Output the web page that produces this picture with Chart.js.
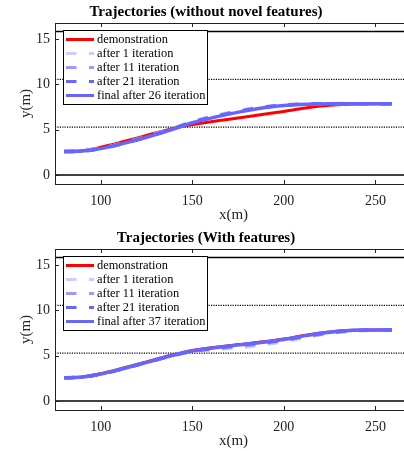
<!DOCTYPE html>
<html><head><meta charset="utf-8">
<script src="https://cdn.jsdelivr.net/npm/chart.js@4.4.0/dist/chart.umd.min.js"></script>
<style>
html,body{margin:0;padding:0;width:404px;height:451px;overflow:hidden;background:#fff;}
.wrap{position:absolute;left:0;width:420px;height:225px;}
canvas{display:block;}
</style></head><body>
<div class="wrap" style="top:0"><canvas id="c1" width="420" height="225"></canvas></div>
<div class="wrap" style="top:226px"><canvas id="c2" width="420" height="225"></canvas></div>
<script>
// ---- data ----
const titleTop = "Trajectories (without novel features)";
const titleBottom = "Trajectories (With features)";
const xLabel = "x(m)";
const yLabel = "y(m)";
const xTickValues = [100, 150, 200, 250];
const yTickValues = [0, 5, 10, 15];
const xMin = 75, xMax = 270, yMin = -1, yMax = 16.75;
const laneSolid = [0, 15.8];
const laneDotted = [5.27, 10.53];

const xs = [80, 90, 100, 112, 125, 138, 150, 163, 176, 189, 200, 212, 225, 238, 250, 259];

const seriesNamesTop = ["demonstration", "after 1 iteration", "after 11 iteration", "after 21 iteration", "final after 26 iteration"];
const seriesNamesBottom = ["demonstration", "after 1 iteration", "after 11 iteration", "after 21 iteration", "final after 37 iteration"];

// top plot (without novel features)
const demoTop   = [2.58, 2.68, 3.05, 3.65, 4.35, 5.05, 5.55, 5.95, 6.30, 6.68, 7.00, 7.38, 7.68, 7.83, 7.85, 7.85];
const iter1Top  = [2.58, 2.64, 2.93, 3.50, 4.22, 5.05, 5.88, 6.55, 7.10, 7.50, 7.72, 7.84, 7.87, 7.86, 7.85, 7.85];
const iter11Top = [2.58, 2.64, 2.92, 3.48, 4.20, 5.02, 5.84, 6.50, 7.05, 7.47, 7.70, 7.83, 7.86, 7.85, 7.85, 7.85];
const iter21Top = [2.58, 2.63, 2.91, 3.46, 4.17, 4.98, 5.79, 6.45, 7.00, 7.43, 7.67, 7.81, 7.85, 7.85, 7.85, 7.85];
const finalTop  = [2.58, 2.63, 2.90, 3.45, 4.15, 4.95, 5.75, 6.40, 6.95, 7.40, 7.65, 7.80, 7.85, 7.85, 7.85, 7.85];

// bottom plot (with features)
const demoBottom   = [2.55, 2.65, 3.00, 3.60, 4.30, 5.00, 5.55, 5.92, 6.22, 6.52, 6.82, 7.25, 7.60, 7.80, 7.82, 7.82];
const iter1Bottom  = [2.55, 2.64, 2.97, 3.56, 4.26, 4.96, 5.45, 5.70, 5.90, 6.20, 6.55, 7.00, 7.45, 7.72, 7.80, 7.82];
const iter11Bottom = [2.55, 2.63, 2.96, 3.55, 4.25, 4.95, 5.48, 5.78, 6.05, 6.35, 6.68, 7.10, 7.50, 7.75, 7.81, 7.82];
const iter21Bottom = [2.55, 2.63, 2.96, 3.55, 4.25, 4.95, 5.50, 5.85, 6.15, 6.45, 6.75, 7.18, 7.56, 7.78, 7.82, 7.82];
const finalBottom  = [2.55, 2.63, 2.96, 3.55, 4.25, 4.95, 5.50, 5.88, 6.18, 6.48, 6.78, 7.20, 7.57, 7.78, 7.82, 7.82];

// ---- styles ----
const colors = ["#ff0000", "#ccccff", "#9999ff", "#6666ff", "#6666ff"];
const dashes = [[], [10.5, 12.5], [10.5, 12.5], [10.5, 12.5], []];
const widths = [3, 3.5, 3.5, 3.5, 3.5];
const drawOrder = [4, 3, 2, 1, 0];
const serifFont = "'Liberation Serif', 'DejaVu Serif', serif";

function pts(ys) { return xs.map((x, i) => ({x: x, y: ys[i]})); }

const framePlugin = {
  id: 'frameTicks',
  afterDatasetsDraw(chart) {
    const ctx = chart.ctx, ca = chart.chartArea;
    const xs_ = chart.scales.x, ys_ = chart.scales.y;
    ctx.save();
    ctx.strokeStyle = '#222';
    ctx.lineWidth = 1;
    ctx.setLineDash([]);
    ctx.strokeRect(Math.round(ca.left) + 0.5, Math.round(ca.top) + 0.5, ca.right - ca.left, ca.bottom - ca.top);
    ctx.beginPath();
    xTickValues.forEach(v => {
      const px = Math.round(xs_.getPixelForValue(v)) + 0.5;
      ctx.moveTo(px, ca.bottom); ctx.lineTo(px, ca.bottom - 4);
      ctx.moveTo(px, ca.top); ctx.lineTo(px, ca.top + 4);
    });
    yTickValues.forEach(v => {
      const py = Math.round(ys_.getPixelForValue(v)) + 0.5;
      ctx.moveTo(ca.left, py); ctx.lineTo(ca.left + 4, py);
      ctx.moveTo(ca.right, py); ctx.lineTo(ca.right - 4, py);
    });
    ctx.stroke();

    // legend
    const ds = chart.data.datasets.filter(d => !d.isLane);
    const bx = Math.round(ca.left) + 8, by = Math.round(ca.top) + 7, bw = 144, bh = 74;
    ctx.fillStyle = '#fff';
    ctx.fillRect(bx, by, bw, bh);
    ctx.strokeStyle = '#000';
    ctx.strokeRect(bx + 0.5, by + 0.5, bw, bh);
    ctx.font = "12.4px " + serifFont;
    ctx.textBaseline = 'middle';
    ctx.textAlign = 'left';
    ds.forEach((d, i) => {
      const y = by + 9.5 + i * 14;
      ctx.beginPath();
      ctx.setLineDash(d.borderDash || []);
      ctx.strokeStyle = d.borderColor;
      ctx.lineWidth = 3;
      ctx.moveTo(bx + 3, y); ctx.lineTo(bx + 31, y);
      ctx.stroke();
      ctx.setLineDash([]);
      ctx.fillStyle = '#000';
      ctx.fillText(d.label, bx + 34, y + 0.5);
    });
    ctx.restore();
  }
};

function makeChart(id, title, names, series) {
  const datasets = series.map((ys, i) => ({
    label: names[i],
    data: pts(ys),
    borderColor: colors[i],
    borderWidth: widths[i],
    borderDash: dashes[i],
    pointRadius: 0,
    tension: 0.4,
    cubicInterpolationMode: 'monotone',
    fill: false,
    order: drawOrder[i]
  }));
  laneSolid.forEach(v => datasets.push({
    label: '', isLane: true, data: [{x: xMin, y: v}, {x: xMax + 20, y: v}],
    borderColor: '#000', borderWidth: 1.5, pointRadius: 0, order: 10, fill: false
  }));
  laneDotted.forEach(v => datasets.push({
    label: '', isLane: true, data: [{x: xMin, y: v}, {x: xMax + 20, y: v}],
    borderColor: '#000', borderWidth: 1.3, borderDash: [1.2, 1.2], pointRadius: 0, order: 10, fill: false
  }));

  return new Chart(document.getElementById(id), {
    type: 'line',
    data: {datasets: datasets},
    options: {
      responsive: false,
      animation: false,
      layout: {padding: {left: 0, right: 8, top: 0, bottom: 0}},
      plugins: {
        legend: {display: false},
        tooltip: {enabled: false},
        title: {
          display: true, text: title, color: '#000',
          font: {family: serifFont, size: 15, weight: 'bold', lineHeight: 1.2},
          padding: {top: 3.5, bottom: 1.5}
        }
      },
      scales: {
        x: {
          type: 'linear', min: xMin, max: xMax,
          afterBuildTicks: s => { s.ticks = xTickValues.map(v => ({value: v})); },
          afterFit: s => { s.height = 41; },
          grid: {display: false, drawTicks: false},
          border: {display: false},
          ticks: {color: '#222', font: {family: serifFont, size: 14}, padding: 8.5, maxRotation: 0},
          title: {display: true, text: xLabel, color: '#222', font: {family: serifFont, size: 15, lineHeight: 1.2}, padding: {top: 0, bottom: 1}}
        },
        y: {
          type: 'linear', min: yMin, max: yMax,
          afterBuildTicks: s => { s.ticks = yTickValues.map(v => ({value: v})); },
          afterFit: s => { s.width = 55; },
          grid: {display: false, drawTicks: false},
          border: {display: false},
          ticks: {color: '#222', font: {family: serifFont, size: 14}, padding: 5},
          title: {display: true, text: yLabel, color: '#222', font: {family: serifFont, size: 15, lineHeight: 1.2}, padding: {top: 17, bottom: 0}}
        }
      }
    },
    plugins: [framePlugin]
  });
}

makeChart('c1', titleTop, seriesNamesTop, [demoTop, iter1Top, iter11Top, iter21Top, finalTop]);
makeChart('c2', titleBottom, seriesNamesBottom, [demoBottom, iter1Bottom, iter11Bottom, iter21Bottom, finalBottom]);
</script>
</body></html>
